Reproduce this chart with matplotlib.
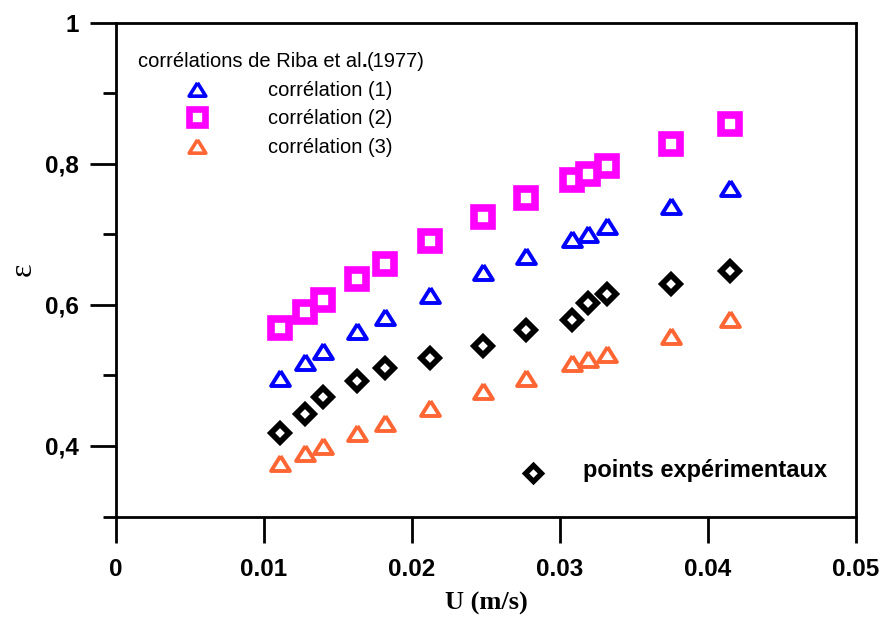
import matplotlib
matplotlib.use("Agg")
import matplotlib.pyplot as plt
from matplotlib.markers import MarkerStyle
from matplotlib.ticker import FixedLocator, FixedFormatter

# ---- data ----
U = [0.0111, 0.0128, 0.0140, 0.0163, 0.0182, 0.0212, 0.0248,
     0.0277, 0.0308, 0.0319, 0.0332, 0.0375, 0.0415]
eps_corr1 = [0.497, 0.519, 0.535, 0.563, 0.583, 0.614, 0.646,
             0.669, 0.694, 0.701, 0.712, 0.740, 0.765]
eps_corr2 = [0.567, 0.590, 0.607, 0.637, 0.658, 0.691, 0.725,
             0.751, 0.777, 0.786, 0.797, 0.828, 0.857]
eps_corr3 = [0.376, 0.390, 0.400, 0.418, 0.432, 0.454, 0.478,
             0.497, 0.517, 0.523, 0.531, 0.556, 0.580]
eps_exp = [0.418, 0.445, 0.470, 0.492, 0.510, 0.524, 0.542,
           0.565, 0.578, 0.603, 0.616, 0.629, 0.648]

x_ticks = [0, 0.01, 0.02, 0.03, 0.04, 0.05]
x_ticklabels = ["0", "0.01", "0.02", "0.03", "0.04", "0.05"]
y_ticks = [0.4, 0.6, 0.8, 1.0]
y_ticklabels = ["0,4", "0,6", "0,8", "1"]
y_minor = [0.3, 0.5, 0.7, 0.9]

legend_title = "corrélations de Riba et al"
legend_labels = ["corrélation (1)", "corrélation (2)", "corrélation (3)"]
exp_label = "points expérimentaux"

# ---- style ----
SANS = ["Liberation Sans", "DejaVu Sans"]
SERIF = ["Liberation Serif", "DejaVu Serif"]
BLUE = "#0000FF"
PINK = "#FF00FF"
ORANGE = "#FF6633"
LEG_FS = 14.5

tri = MarkerStyle([(0, 0.8), (-1, -0.8), (1, -0.8), (0, 0.8)], joinstyle="miter")

fig = plt.figure(figsize=(8.85, 6.17), dpi=100)
ax = fig.add_axes([116 / 885, 1 - 516.5 / 617, 740 / 885, 493.8 / 617])

ax.plot(U, eps_corr2, linestyle="none", marker="s", ms=12.5, mew=5.5,
        mec=PINK, mfc="white", zorder=3)
ax.plot(U, eps_corr1, linestyle="none", marker=tri, ms=13.5, mew=2.8,
        mec=BLUE, mfc="none", zorder=3)
ax.plot(U, eps_corr3, linestyle="none", marker=tri, ms=13.5, mew=2.8,
        mec=ORANGE, mfc="none", zorder=3)
ax.plot(U, eps_exp, linestyle="none", marker="D", ms=8.8, mew=4.2,
        mec="black", mfc="none", zorder=3)

ax.set_xlim(0, 0.05)
ax.set_ylim(0.3, 1.0)

ax.xaxis.set_major_locator(FixedLocator(x_ticks))
ax.xaxis.set_major_formatter(FixedFormatter(x_ticklabels))
ax.yaxis.set_major_locator(FixedLocator(y_ticks))
ax.yaxis.set_major_formatter(FixedFormatter(y_ticklabels))
ax.yaxis.set_minor_locator(FixedLocator(y_minor))

for s in ax.spines.values():
    s.set_linewidth(2.0)

ax.tick_params(axis="both", which="major", direction="out", length=18.7,
               width=2.0, labelsize=17.5, top=False, right=False)
ax.tick_params(axis="y", which="minor", direction="out", length=9.4,
               width=2.0, right=False)
ax.tick_params(axis="x", which="major", pad=11)
ax.tick_params(axis="y", which="major", pad=8)
for lab in ax.get_xticklabels() + ax.get_yticklabels():
    lab.set_fontfamily(SANS)
    lab.set_fontweight("bold")

ax.set_xlabel("U (m/s)", family=SERIF, fontweight="bold", fontsize=19,
              labelpad=8)
ax.set_ylabel("ε", family=SERIF, fontsize=23, labelpad=5)

# ---- legend (drawn manually) ----
t1 = ax.text(0.0297, 0.9109, legend_title, transform=ax.transAxes,
             family=SANS, fontsize=LEG_FS, va="baseline", ha="left")
t2 = ax.annotate(".", xy=(1, 0), xycoords=t1, va="bottom", ha="left",
                 family=SANS, fontsize=LEG_FS, fontweight="bold")
ax.annotate("(1977)", xy=(1, 0), xycoords=t2, va="bottom", ha="left",
            family=SANS, fontsize=LEG_FS)

leg_y_text = [0.8522, 0.7949, 0.7367]
leg_specs = [
    dict(marker=tri, ms=12, mew=2.6, mec=BLUE, mfc="none"),
    dict(marker="s", ms=11, mew=4.8, mec=PINK, mfc="white"),
    dict(marker=tri, ms=12, mew=2.6, mec=ORANGE, mfc="none"),
]
for yt, lab, spec in zip(leg_y_text, legend_labels, leg_specs):
    ax.plot([0.1095], [yt + 7 / 493.8], transform=ax.transAxes,
            linestyle="none", clip_on=False, **spec)
    ax.text(0.2054, yt, lab, transform=ax.transAxes, family=SANS,
            fontsize=LEG_FS, va="baseline", ha="left")

ax.plot([0.5635], [0.0881], transform=ax.transAxes, linestyle="none",
        marker="D", ms=8.0, mew=3.8, mec="black", mfc="none")
ax.text(0.6311, 0.0794, exp_label, transform=ax.transAxes, family=SANS,
        fontsize=17, fontweight="bold", va="baseline", ha="left")

fig.savefig("out.png", dpi=100)
